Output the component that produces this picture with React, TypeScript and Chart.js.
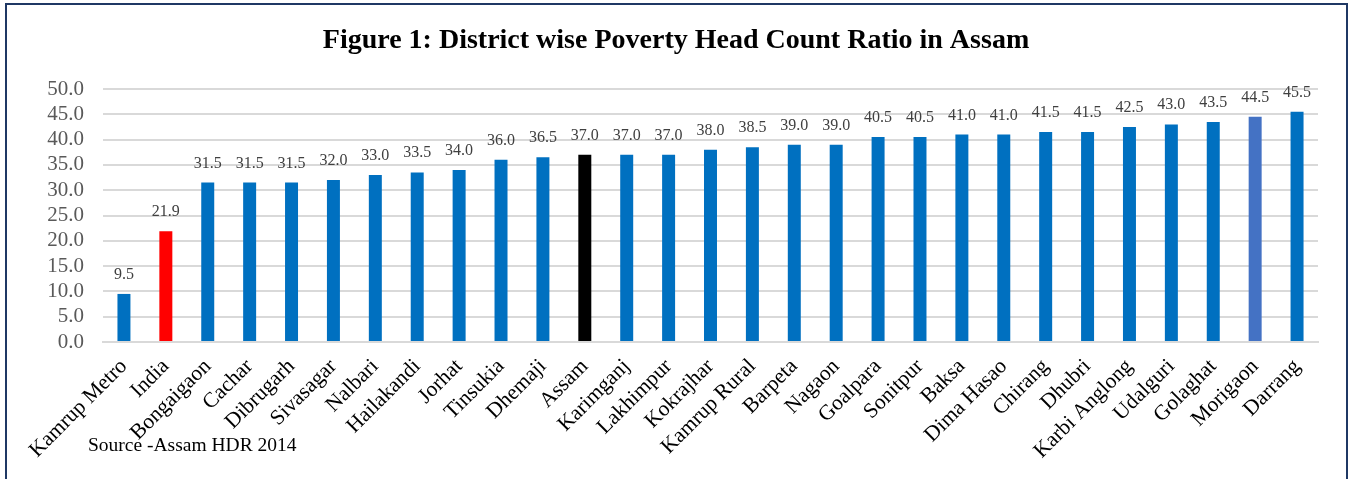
import React, { useEffect, useRef } from "react";
import { Chart, registerables } from "chart.js";

Chart.register(...registerables);

const districts = [
  "Kamrup Metro", "India", "Bongaigaon", "Cachar", "Dibrugarh", "Sivasagar", "Nalbari",
  "Hailakandi", "Jorhat", "Tinsukia", "Dhemaji", "Assam", "Karimganj", "Lakhimpur",
  "Kokrajhar", "Kamrup Rural", "Barpeta", "Nagaon", "Goalpara", "Sonitpur", "Baksa",
  "Dima Hasao", "Chirang", "Dhubri", "Karbi Anglong", "Udalguri", "Golaghat", "Morigaon", "Darrang",
];

const headCountRatio = [
  9.5, 21.9, 31.5, 31.5, 31.5, 32.0, 33.0, 33.5, 34.0, 36.0, 36.5, 37.0, 37.0, 37.0,
  38.0, 38.5, 39.0, 39.0, 40.5, 40.5, 41.0, 41.0, 41.5, 41.5, 42.5, 43.0, 43.5, 44.5, 45.5,
];

const yTicks = [0, 5, 10, 15, 20, 25, 30, 35, 40, 45, 50];

const titleText = "Figure 1: District wise Poverty Head Count Ratio in Assam";
const sourceText = "Source -Assam HDR 2014";

const BLUE = "#0070C0";
const highlight: Record<string, string> = { India: "#FF0000", Assam: "#000000", Morigaon: "#4472C4" };
const barColors = districts.map((d) => highlight[d] || BLUE);

const SERIF = "'Liberation Serif', 'Times New Roman', serif";

const labelPlugin = {
  id: "valueLabels",
  afterDatasetsDraw(chart: any) {
    const ctx = chart.ctx;
    const meta = chart.getDatasetMeta(0);
    ctx.save();
    ctx.font = `16px ${SERIF}`;
    ctx.fillStyle = "#404040";
    ctx.textAlign = "center";
    ctx.textBaseline = "alphabetic";
    meta.data.forEach((bar: any, i: number) => {
      const v = headCountRatio[i];
      ctx.fillText(v.toFixed(1), bar.x, bar.y - 15);
    });
    ctx.restore();
  },
  afterDraw(chart: any) {
    const ctx = chart.ctx;
    ctx.save();
    ctx.font = `bold 28px ${SERIF}`;
    ctx.fillStyle = "#000000";
    ctx.textAlign = "center";
    ctx.textBaseline = "alphabetic";
    ctx.fillText(titleText, 676, 48);
    ctx.font = `19.5px ${SERIF}`;
    ctx.textAlign = "left";
    ctx.textBaseline = "middle";
    ctx.fillText(sourceText, 88, 446);
    ctx.restore();
  },
};

export default function App() {
  const ref = useRef<HTMLCanvasElement>(null);
  useEffect(() => {
    if (!ref.current) return;
    const chart = new Chart(ref.current, {
      type: "bar",
      data: {
        labels: districts,
        datasets: [
          {
            data: headCountRatio,
            backgroundColor: barColors,
            barPercentage: 0.31,
            categoryPercentage: 1,
          },
        ],
      },
      options: {
        responsive: false,
        animation: false,
        layout: { padding: { left: 0, right: 32, top: 89, bottom: 0 } },
        plugins: {
          legend: { display: false },
          tooltip: { enabled: false },
          title: { display: false },
        },
        scales: {
          x: {
            grid: { display: false, drawTicks: false },
            border: { display: true, color: "#d9d9d9", width: 2 },
            ticks: {
              autoSkip: false,
              maxRotation: 45,
              minRotation: 45,
              padding: 12,
              color: "#000000",
              font: { family: SERIF, size: 21.5 },
            },
            afterFit: (s: any) => {
              s.height = 137;
            },
          },
          y: {
            min: 0,
            max: 50,
            afterBuildTicks: (s: any) => {
              s.ticks = yTicks.map((v) => ({ value: v }));
            },
            grid: { color: "#d9d9d9", lineWidth: 2, drawTicks: false },
            border: { display: false },
            ticks: {
              autoSkip: false,
              padding: 19,
              color: "#595959",
              font: { family: SERIF, size: 21 },
              callback: (v: any) => Number(v).toFixed(1),
            },
            afterFit: (s: any) => {
              s.width = 103;
            },
          },
        },
      },
      plugins: [labelPlugin],
    });
    return () => chart.destroy();
  }, []);

  return (
    <div
      style={{
        position: "fixed",
        left: 0,
        top: 0,
        width: 1350,
        height: 479,
        overflow: "hidden",
        background: "#ffffff",
      }}
    >
      <canvas ref={ref} width={1350} height={479} style={{ position: "absolute", left: 0, top: 0 }} />
      <div
        style={{
          position: "absolute",
          left: 5,
          top: 3,
          width: 1343,
          height: 520,
          border: "2px solid #1F3864",
          boxSizing: "border-box",
          pointerEvents: "none",
        }}
      />
    </div>
  );
}
